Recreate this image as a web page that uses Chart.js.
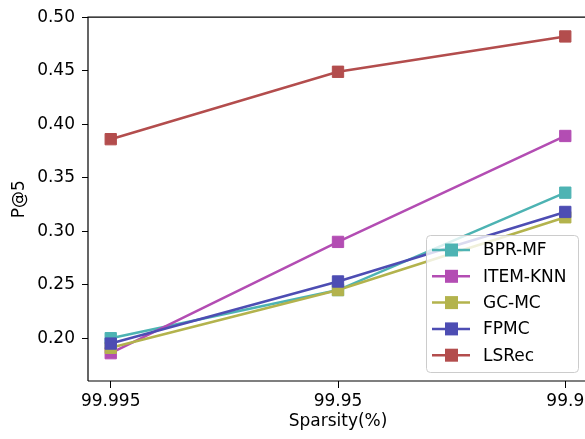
<!DOCTYPE html>
<html>
<head>
<meta charset="utf-8">
<script src="https://cdn.jsdelivr.net/npm/chart.js@4/dist/chart.umd.min.js"></script>
<style>
  html, body { margin: 0; padding: 0; overflow: hidden; background: #fff; }
  canvas { display: block; }
</style>
</head>
<body>
<canvas id="c" width="600" height="439"></canvas>
<script>
// Sparsity levels (x categories) and P@5 per method
const sparsityLabels = ['99.995', '99.95', '99.9'];
const bprMF   = [0.200, 0.245, 0.336];
const itemKNN = [0.186, 0.290, 0.389];
const gcMC    = [0.191, 0.245, 0.313];
const fpmc    = [0.195, 0.253, 0.318];
const lsRec   = [0.386, 0.449, 0.482];
const yTickValues = [0.20, 0.25, 0.30, 0.35, 0.40, 0.45, 0.50];

const seriesNames  = ['BPR-MF', 'ITEM-KNN', 'GC-MC', 'FPMC', 'LSRec'];
const seriesValues = [bprMF, itemKNN, gcMC, fpmc, lsRec];
const seriesColors = ['#4db3b3', '#b34db3', '#b3b34d', '#4d4db3', '#b34d4d'];

Chart.defaults.font.family = 'DejaVu Sans';
Chart.defaults.font.size = 17;
Chart.defaults.color = '#000';

const datasets = seriesNames.map((name, i) => ({
  label: name,
  data: seriesValues[i].map((v, k) => ({ x: k, y: v })),
  borderColor: seriesColors[i],
  backgroundColor: seriesColors[i],
  pointBackgroundColor: seriesColors[i],
  pointBorderColor: seriesColors[i],
  borderWidth: 2.5,
  pointStyle: 'rect',
  pointRadius: 8,
  pointBorderWidth: 1,
  pointHoverRadius: 8,
  tension: 0,
  order: seriesNames.length - i   // later series drawn on top
}));

// Axes frame (left, bottom, top) drawn over the lines
const framePlugin = {
  id: 'frame',
  afterDatasetsDraw(chart) {
    const { ctx, chartArea: a } = chart;
    ctx.save();
    ctx.strokeStyle = '#000';
    ctx.lineWidth = 1.2;
    ctx.beginPath();
    ctx.moveTo(a.left, a.bottom);
    ctx.lineTo(a.left, a.top);
    ctx.lineTo(a.right, a.top);
    ctx.moveTo(a.left, a.bottom);
    ctx.lineTo(a.right, a.bottom);
    ctx.stroke();
    ctx.restore();
  }
};

// Legend box in the lower right of the plot
const legendPlugin = {
  id: 'boxLegend',
  afterDraw(chart) {
    const { ctx } = chart;
    const x0 = 426, y0 = 235, w = 152, h = 137, r = 4;
    ctx.save();
    ctx.fillStyle = 'rgba(255,255,255,0.8)';
    ctx.strokeStyle = '#cccccc';
    ctx.lineWidth = 1;
    ctx.beginPath();
    ctx.roundRect(x0 + 0.5, y0 + 0.5, w, h, r);
    ctx.fill();
    ctx.stroke();
    ctx.font = '17px "DejaVu Sans"';
    ctx.textBaseline = 'middle';
    ctx.textAlign = 'left';
    chart.data.datasets.forEach((ds, i) => {
      const cy = y0 + 15 + i * 26.3;
      ctx.strokeStyle = ds.borderColor;
      ctx.lineWidth = 2.5;
      ctx.beginPath();
      ctx.moveTo(x0 + 6, cy);
      ctx.lineTo(x0 + 44, cy);
      ctx.stroke();
      ctx.fillStyle = ds.borderColor;
      ctx.fillRect(x0 + 19, cy - 6.5, 13, 13);
      ctx.fillStyle = '#000';
      ctx.fillText(ds.label, x0 + 57, cy + 1);
    });
    ctx.restore();
  }
};

new Chart(document.getElementById('c'), {
  type: 'line',
  data: { datasets },
  options: {
    responsive: false,
    animation: false,
    layout: { padding: { top: 16, right: 12, bottom: 0, left: 0 } },
    plugins: { legend: { display: false }, tooltip: { enabled: false } },
    scales: {
      x: {
        type: 'linear',
        min: -0.1,
        max: 2.1,
        afterBuildTicks(axis) { axis.ticks = sparsityLabels.map((_, i) => ({ value: i })); },
        afterFit(axis) { axis.height = 58; },
        ticks: {
          autoSkip: false,
          maxRotation: 0,
          padding: 3,
          callback: (v) => sparsityLabels[v]
        },
        grid: { drawOnChartArea: false, drawTicks: true, tickLength: 7, color: '#000', lineWidth: 1 },
        border: { display: false },
        title: { display: true, text: 'Sparsity(%)', padding: { top: 4, bottom: 7 } }
      },
      y: {
        type: 'linear',
        min: 0.16,
        max: 0.50,
        afterBuildTicks(axis) { axis.ticks = yTickValues.map(v => ({ value: v })); },
        afterFit(axis) { axis.width = 88; },
        ticks: {
          padding: 7,
          callback: (v) => v.toFixed(2)
        },
        grid: { drawOnChartArea: false, drawTicks: true, tickLength: 6, color: '#000', lineWidth: 1 },
        border: { display: false },
        title: { display: true, text: 'P@5', padding: { top: 9, bottom: 0 } }
      }
    }
  },
  plugins: [framePlugin, legendPlugin]
});
</script>
</body>
</html>
